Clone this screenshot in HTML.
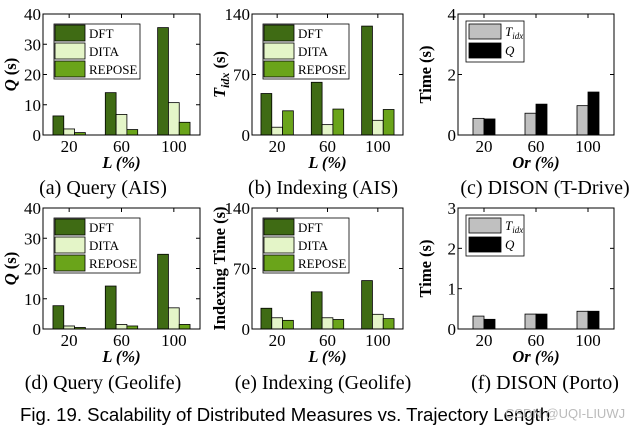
<!DOCTYPE html>
<html><head><meta charset="utf-8"><style>
html,body{margin:0;padding:0;background:#fff;width:640px;height:430px;overflow:hidden}
svg{display:block}
</style></head><body>
<svg id="fig" width="640" height="430" xmlns="http://www.w3.org/2000/svg" font-family="Liberation Serif, serif"></svg>
<script>
const groupsL = ["20","60","100"];
const aDFT = [6.3, 14, 35.5], aDITA = [2, 6.8, 10.7], aREPOSE = [0.8, 1.8, 4.2];
const bDFT = [48, 61, 126], bDITA = [9, 12, 17], bREPOSE = [28, 30, 29.5];
const cTidx = [0.55, 0.72, 0.97], cQ = [0.53, 1.02, 1.42];
const dDFT = [7.7, 14.2, 24.7], dDITA = [1, 1.5, 7], dREPOSE = [0.5, 1, 1.5];
const eDFT = [24, 43, 56], eDITA = [13, 13, 17], eREPOSE = [10, 11, 12];
const fTidx = [0.32, 0.37, 0.44], fQ = [0.24, 0.37, 0.44];
const ticksQ = [0,10,20,30,40], ticksT = [0,70,140], ticksC = [0,2,4], ticksF = [0,1,2,3];
const names3 = ["DFT","DITA","REPOSE"], colors3 = ["#3f6b14","#e4f5c8","#6aa41a"];
const colors2 = ["#c0c0c0","#000000"];

const NS="http://www.w3.org/2000/svg";
const svg=document.getElementById('fig');
function el(tag,attrs,parent,text){const e=document.createElementNS(NS,tag);for(const k in attrs)e.setAttribute(k,attrs[k]);if(text!==undefined)e.textContent=text;(parent||svg).appendChild(e);return e;}

function chart(id,L,R,T,B,ticks,series,colors,ylab,xlab,legend,cap,capX,capY){
  const g=el('g',{},svg);
  
  
  const max=ticks[ticks.length-1];
  const y=v=>B-(v/max)*(B-T);
  const gw=(R-L)/3;
  const cx=i=>L+gw*(i+0.5);
  const bw=series.length===3?10.8:11;
  series.forEach((s,si)=>{
    s.forEach((v,i)=>{
      const x=cx(i)-bw*series.length/2+si*bw;
      const r=el('rect',{x:x,y:y(v),width:bw,height:B-y(v),fill:colors[si],stroke:'#000','stroke-width':0.8},g);
      
      
    });
  });
  const f=el('rect',{x:L,y:T,width:R-L,height:B-T,fill:'none',stroke:'#000','stroke-width':1},g);
  
  
  ticks.forEach(t=>{
    el('line',{x1:L,x2:L+4,y1:y(t),y2:y(t),stroke:'#000'},g);
    el('line',{x1:R,x2:R-4,y1:y(t),y2:y(t),stroke:'#000'},g);
    const tl=el('text',{x:L-2,y:y(t)+6,'text-anchor':'end','font-size':17},g,String(t));
    
    
  });
  groupsL.forEach((lab,i)=>{
    el('line',{x1:cx(i),x2:cx(i),y1:T,y2:T+4,stroke:'#000'},g);
    const tl=el('text',{x:cx(i),y:B+17,'text-anchor':'middle','font-size':17},g,lab);
    
    
  });
  const xl=el('text',{x:(L+R)/2,y:B+33,'text-anchor':'middle','font-size':16.5,'font-weight':'bold','font-style':'italic'},g);
  
  
  xl.textContent=xlab;
  const yx=L-27,yy=(T+B)/2;
  const yl=el('text',{x:yx,y:yy,'text-anchor':'middle','font-size':16.5,'font-weight':'bold',transform:`rotate(-90 ${yx} ${yy})`},g);
  
  
  if(ylab==='Q'){el('tspan',{'font-style':'italic'},yl,'Q');el('tspan',{},yl,' (s)');}
  else if(ylab==='T'){el('tspan',{'font-style':'italic'},yl,'T');el('tspan',{'font-style':'italic','font-size':12,dy:4},yl,'idx');el('tspan',{dy:-4},yl,' (s)');}
  else yl.textContent=ylab;
  const lg=el('g',{},g);
  
  
  const lx=L+11, ly=T+10;
  if(series.length===3){
    el('rect',{x:lx,y:ly,width:86,height:55,fill:'#fff',stroke:'#000','stroke-width':0.8},lg);
    legend.forEach((n,i)=>{
      const e=el('rect',{x:lx+1,y:ly+1+i*18,width:30,height:16,fill:colors[i],stroke:'#000','stroke-width':0.8},lg);
      
      
      el('text',{x:lx+35,y:ly+14+i*18,'font-size':13},lg,n);
    });
  } else {
    el('rect',{x:lx-3,y:ly-3,width:58,height:41,fill:'#fff',stroke:'#000','stroke-width':0.8},lg);
    legend.forEach((n,i)=>{
      const e=el('rect',{x:lx,y:ly+i*19,width:32,height:15,fill:colors[i],stroke:'#000','stroke-width':0.8},lg);
      
      
      const t=el('text',{x:lx+36,y:ly+12+i*19,'font-size':13,'font-style':'italic'},lg);
      if(n==='Tidx'){el('tspan',{},t,'T');el('tspan',{'font-size':9,dy:3},t,'idx');}
      else t.textContent='Q';
    });
  }
  const c=el('text',{x:capX,y:capY,'text-anchor':'middle','font-size':20},g,cap);
  
  
}
chart('a',43,200,14,135,ticksQ,[aDFT,aDITA,aREPOSE],colors3,'Q','L (%)',names3,'(a)  Query (AIS)',103,194);
chart('b',252,403,14,135,ticksT,[bDFT,bDITA,bREPOSE],colors3,'T','L (%)',names3,'(b)  Indexing (AIS)',323,194);
chart('c',458,614,14,135,ticksC,[cTidx,cQ],colors2,'Time (s)','Or (%)',['Tidx','Q'],'(c)  DISON (T-Drive)',545,194);
chart('d',43,200,208,329,ticksQ,[dDFT,dDITA,dREPOSE],colors3,'Q','L (%)',names3,'(d)  Query (Geolife)',103,389);
chart('e',252,403,208,329,ticksT,[eDFT,eDITA,eREPOSE],colors3,'Indexing Time (s)','L (%)',names3,'(e)  Indexing (Geolife)',323,389);
chart('f',458,614,208,329,ticksF,[fTidx,fQ],colors2,'Time (s)','Or (%)',['Tidx','Q'],'(f)  DISON (Porto)',545,389);
const fc=el('text',{x:20,y:421,'font-size':18.6,'font-family':'Liberation Sans, sans-serif'},svg,'Fig. 19. Scalability of Distributed Measures vs. Trajectory Length');


const wm=el('text',{x:505,y:418,'font-size':13,fill:'#bbbbbb','font-family':'Liberation Sans, sans-serif'},svg,'CSDN @UQI-LIUWJ');


</script>
</body></html>
